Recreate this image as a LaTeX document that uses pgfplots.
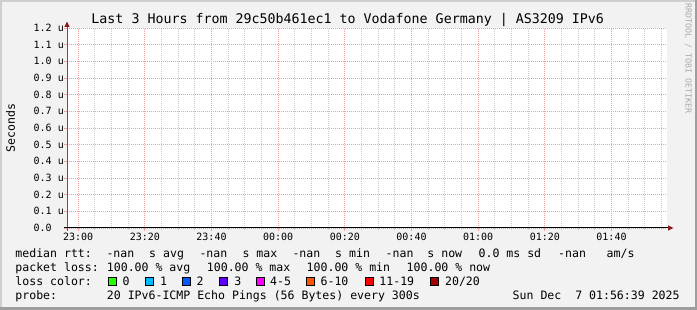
\documentclass[border=0pt]{standalone}
\usepackage{pgfplots}
\pgfplotsset{compat=1.18}
\usepackage{fontspec}
\setmainfont{DejaVu Sans Mono}
\setmonofont{DejaVu Sans Mono}
\definecolor{back}{HTML}{F2F2F2}
\definecolor{shadea}{HTML}{CFCFCF}
\definecolor{shadeb}{HTML}{9E9E9E}
\definecolor{mgrid}{HTML}{EBA0A0}
\definecolor{gridc}{HTML}{CCCCCC}
\definecolor{arrowc}{HTML}{8B1A1A}
\definecolor{wm}{HTML}{AAAAAA}
\definecolor{lc0}{HTML}{26FF00}
\definecolor{lc1}{HTML}{00B8FF}
\definecolor{lc2}{HTML}{0059FF}
\definecolor{lc3}{HTML}{5E00FF}
\definecolor{lc4}{HTML}{FF00FF}
\definecolor{lc6}{HTML}{FF5500}
\definecolor{lc11}{HTML}{FF0000}
\definecolor{lc20}{HTML}{A10000}
\newcommand{\lgf}{\fontsize{11.55}{13}\selectfont}
\newcommand{\tkf}{\fontsize{10}{12}\selectfont}
\begin{document}
\begin{tikzpicture}[x=1pt,y=1pt]
% background and 3D frame
\fill[back] (0,0) rectangle (697,310);
\fill[shadea] (0,307.5) rectangle (697,310);
\fill[shadea] (0,0) rectangle (1.5,310);
\fill[shadeb] (0,0) rectangle (697,2.5);
\fill[shadeb] (694.5,0) rectangle (697,310);
\begin{axis}[
  at={(67pt,82pt)}, anchor=south west,
  scale only axis, width=600pt, height=200pt,
  xmin=-3.35, xmax=176.65, ymin=0, ymax=1.2,
  axis line style={draw=none},
  axis background/.style={fill=white},
  xtick={0,20,40,60,80,100,120,140,160},
  xticklabels={23:00,23:20,23:40,00:00,00:20,00:40,01:00,01:20,01:40},
  minor xtick={5,10,15,25,30,35,45,50,55,65,70,75,85,90,95,105,110,115,125,130,135,145,150,155,165,170,175},
  ytick={0,0.1,0.2,0.3,0.4,0.5,0.6,0.7,0.8,0.9,1.0,1.1,1.2},
  yticklabels={0.0\hphantom{\ u},0.1 u,0.2 u,0.3 u,0.4 u,0.5 u,0.6 u,0.7 u,0.8 u,0.9 u,1.0 u,1.1 u,1.2 u},
  grid=both,
  major grid style={draw=mgrid, line width=0.9pt, dash pattern=on 1pt off 1pt},
  minor grid style={draw=gridc, line width=0.9pt, dash pattern=on 1pt off 1pt},
  tick align=outside, major tick length=3pt, minor tick length=2pt,
  major tick style={draw=mgrid, line width=0.9pt},
  minor tick style={draw=gridc, line width=0.9pt},
  xtick pos=bottom, ytick pos=left,
  /pgf/number format/assume math mode=true,
  ticklabel style={font=\tkf, inner sep=0pt},
  xticklabel style={anchor=north, yshift=-2pt},
  yticklabel style={anchor=east},
]
\end{axis}
% axis lines and arrows
\draw[line width=1pt, color=black!65] (67,79) -- (67,285);
\fill[arrowc] (67,288.5) -- (64.3,283) -- (69.7,283) -- cycle;
\draw[line width=1pt, color=black] (64,82) -- (669,82);
\fill[arrowc] (673.5,82) -- (668,84.7) -- (668,79.3) -- cycle;
% title
\node[anchor=base, inner sep=0pt, font=\fontsize{13.3}{15}\selectfont] at (347.7,286) {Last 3 Hours from 29c50b461ec1 to Vodafone Germany | AS3209 IPv6};
% y label
\node[rotate=90, inner sep=0pt, font=\lgf] at (10.5,182) {Seconds};
% watermark
\node[rotate=-90, inner sep=0pt, font=\fontsize{8.3}{9}\selectfont, text=wm] at (688.3,251.5) {RRDTOOL / TOBI OETIKER};
% legend
\begin{scope}[every node/.style={anchor=base west, inner sep=0pt, font=\lgf}]
\node at (15.2,52.3) {median rtt:};
\node at (106.3,52.3) {-nan};
\node at (149.0,52.3) {s avg};
\node at (199.3,52.3) {-nan};
\node at (242.3,52.3) {s max};
\node at (292.3,52.3) {-nan};
\node at (335.0,52.3) {s min};
\node at (385.5,52.3) {-nan};
\node at (427.2,52.3) {s now};
\node at (478.4,52.3) {0.0 ms sd};
\node at (558.0,52.3) {-nan};
\node at (606.5,52.3) {am/s};
\node at (15.2,38.3) {packet loss:};
\node at (106.7,38.3) {100.00 \% avg};
\node at (206.7,38.3) {100.00 \% max};
\node at (306.5,38.3) {100.00 \% min};
\node at (406.5,38.3) {100.00 \% now};
\node at (15.2,24.0) {loss color:};
\node at (122.5,24.0) {0};
\node at (159.9,24.0) {1};
\node at (196.5,24.0) {2};
\node at (234.2,24.0) {3};
\node at (269.9,24.0) {4-5};
\node at (320.4,24.0) {6-10};
\node at (379.2,24.0) {11-19};
\node at (444.9,24.0) {20/20};
\node at (15.2,10.0) {probe:};
\node at (106.7,10.0) {20 IPv6-ICMP Echo Pings (56 Bytes) every 300s};
\node at (512.5,10.0) {Sun Dec\ \ 7 01:56:39 2025};
\end{scope}
\foreach \bx/\bc in {108.3/lc0,145.7/lc1,182.3/lc2,219.3/lc3,256.7/lc4,306.9/lc6,365.7/lc11,430.5/lc20}{
  \filldraw[fill=\bc, draw=black, line width=1pt] (\bx,24.5) rectangle ++(8,8);
}
\end{tikzpicture}
\end{document}
